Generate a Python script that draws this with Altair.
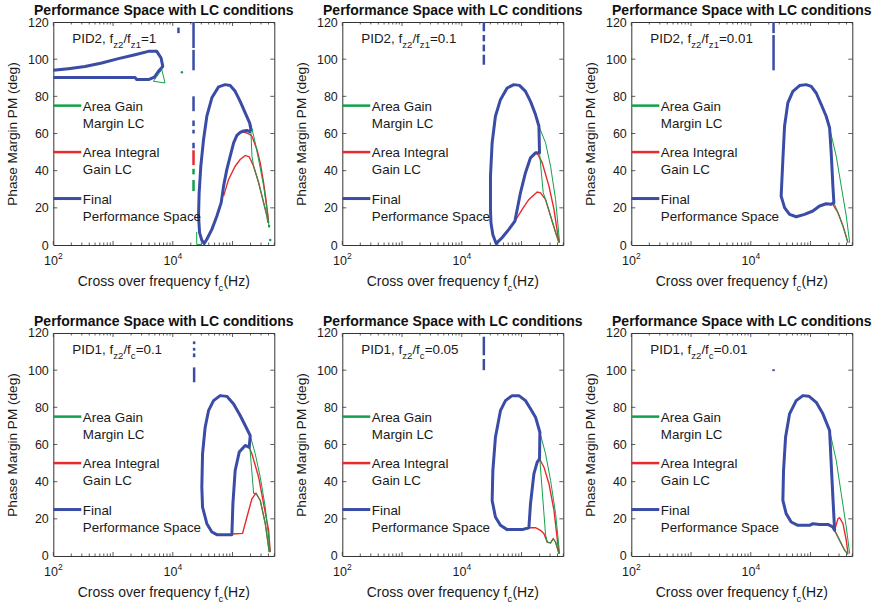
import altair as alt
import pandas as pd

# ---------------- data ----------------
# paths are (log10 of cross-over frequency in Hz, phase margin in deg)
P1_BLUE = [[(4.525,0.8),(4.486,2.5),(4.448,6.7),(4.431,15.6),(4.441,28.1),(4.469,42.4),(4.515,56.8),(4.570,69.3),(4.654,79.2),(4.766,85.1),(4.877,86.3),(4.961,85.8),(5.044,82.7),(5.128,77.3),(5.212,71.1),(5.286,65.7),(5.308,62.1),(5.290,61.0),(5.240,61.6),(5.185,61.4),(5.128,60.6),(5.073,59.0),(5.018,55.0),(4.961,47.8),(4.905,40.7),(4.850,31.7),(4.810,22.8),(4.738,15.6),(4.654,8.4),(4.570,3.1),(4.525,0.8)],
           [(2.0,90.2),(3.368,90.2),(3.396,89.0),(3.593,89.0),(3.693,90.4),(3.760,93.5),(3.832,96.1),(3.804,100.6),(3.732,104.2),(3.593,104.2),(3.368,102.4),(3.090,100.3),(2.810,97.9),(2.530,96.1),(2.251,94.9),(2.0,94.0)]]
P1_RED = [[(4.961,47.8),(5.018,55.0),(5.073,59.0),(5.128,60.4),(5.185,60.8),(5.240,60.2),(5.290,59.5),(5.325,58.5),(5.408,51.4),(5.464,44.2),(5.520,33.5),(5.559,24.5),(5.593,15.6),(5.604,12.0)],
          [(4.850,26.3),(4.934,35.3),(5.044,42.4),(5.128,46.0),(5.212,48.2),(5.279,47.5),(5.353,42.4),(5.437,33.5),(5.520,22.8),(5.576,15.6),(5.593,12.0)]]
P1_GREEN = [[(5.308,64.8),(5.380,55.0),(5.447,44.2),(5.520,31.7),(5.576,19.2),(5.604,12.0),(5.610,9.3)],
            [(5.308,61.0),(5.325,47.8),(5.353,42.4),(5.437,33.5),(5.520,22.8),(5.576,15.6),(5.593,12.0)],
            [(3.676,88.1),(3.816,94.4),(3.871,87.2),(3.676,88.1)],
            [(4.40,7.0),(4.40,0.3),(4.47,0.3)]]
P1_GREEN_PTS = [(5.612,10.2),(5.631,2.7),(4.152,93.0)]
P1_BLUE_DASH = [(4.347,94,105),(4.347,106,120),(4.347,72,80),(4.347,64,67),(4.347,60,62),(4.347,52,55),(4.095,114,117)]
P1_RED_DASH = [(4.347,43,51)]
P1_GREEN_DASH = [(4.347,29,35),(4.347,38,41)]

P2_BLUE = [[(4.575,0.8),(4.520,5.5),(4.488,12.0),(4.480,19.2),(4.480,37.0),(4.508,55.0),(4.563,69.3),(4.647,78.2),(4.759,84.5),(4.872,86.3),(4.966,85.9),(5.066,82.7),(5.150,77.3),(5.234,70.2),(5.291,63.9),(5.301,49.6),(5.234,49.6),(5.150,46.9),(5.066,38.9),(4.982,28.1),(4.889,12.9),(4.788,8.4),(4.676,4.0),(4.575,0.8)]]
P2_RED = [[(4.889,12.9),(4.982,28.1),(5.066,38.9),(5.150,46.9),(5.234,49.6),(5.280,48.5),(5.346,44.2),(5.459,31.7),(5.543,19.2),(5.626,1.3)],
          [(4.889,12.9),(5.011,19.2),(5.123,24.5),(5.262,28.5),(5.318,28.1),(5.402,24.5),(5.486,15.6),(5.570,6.7),(5.626,1.3)]]
P2_GREEN = [[(5.291,63.9),(5.402,55.0),(5.486,42.4),(5.570,24.5),(5.637,1.3)],
            [(5.301,49.6),(5.363,28.1),(5.402,24.5),(5.486,15.6),(5.570,6.7),(5.626,1.3)]]
P2_BLUE_DASH = [(4.369,115,120),(4.369,109.6,113),(4.369,104.2,107.8),(4.369,97,102.4)]

P3_BLUE = [[(4.508,26.3),(4.537,46.0),(4.565,63.9),(4.620,76.5),(4.704,82.7),(4.816,85.8),(4.927,86.3),(5.011,85.4),(5.095,81.8),(5.179,75.6),(5.262,69.3),(5.319,63.0),(5.346,49.6),(5.374,31.7),(5.391,22.8),(5.346,21.9),(5.262,22.2),(5.151,21.0),(5.039,18.3),(4.900,16.5),(4.760,15.2),(4.649,16.5),(4.565,20.1),(4.508,26.3)]]
P3_RED = [[(5.375,21.9),(5.459,17.4),(5.543,10.2),(5.626,1.3)]]
P3_GREEN = [[(5.319,63.0),(5.430,47.8),(5.514,31.7),(5.598,15.6),(5.655,1.3)],
            [(5.391,22.8),(5.459,17.4),(5.543,10.2),(5.626,1.3)]]
P3_BLUE_DASH = [(4.381,94,113),(4.381,114,120)]

P4_BLUE = [[(4.738,11.5),(4.989,11.5),(5.006,28.1),(5.044,46.0),(5.112,55.9),(5.212,59.5),(5.279,58.5),(5.296,64.8),(5.212,70.2),(5.128,75.6),(5.018,81.8),(4.905,85.9),(4.793,86.3),(4.682,83.6),(4.598,78.2),(4.542,69.3),(4.498,55.0),(4.486,37.0),(4.498,26.3),(4.570,17.4),(4.654,12.9),(4.738,11.5)]]
P4_RED = [[(4.989,11.8),(5.168,12.2),(5.241,21.0),(5.324,30.8),(5.392,33.8),(5.464,29.9),(5.548,17.4),(5.615,2.1)],
          [(5.212,59.5),(5.279,58.5),(5.324,55.0),(5.437,42.4),(5.520,28.1),(5.604,13.8),(5.631,2.1)]]
P4_GREEN = [[(5.296,64.8),(5.380,55.0),(5.464,42.4),(5.548,26.3),(5.631,2.1)],
            [(5.290,58.5),(5.353,33.5),(5.392,33.8),(5.464,29.9),(5.548,17.4),(5.615,2.1)]]
P4_BLUE_DASH = [(4.357,114,115.5),(4.357,110.5,112),(4.357,107,109),(4.357,93.5,101.5)]

P5_BLUE = [[(4.759,14.2),(5.011,14.2),(5.123,15.2),(5.150,28.1),(5.207,44.2),(5.262,50.5),(5.301,52.3),(5.307,66.6),(5.234,74.7),(5.150,79.2),(5.066,83.6),(4.956,86.3),(4.843,86.3),(4.731,83.6),(4.647,78.2),(4.563,63.9),(4.520,46.0),(4.508,29.9),(4.563,21.0),(4.647,16.5),(4.759,14.2)]]
P5_RED = [[(5.123,15.2),(5.234,15.2),(5.318,13.8),(5.375,12.0),(5.430,7.5),(5.486,7.0),(5.530,9.3),(5.570,7.5),(5.626,1.3)],
          [(5.301,52.3),(5.375,47.8),(5.459,38.9),(5.543,24.5),(5.626,1.3)]]
P5_GREEN = [[(5.307,66.6),(5.402,55.0),(5.486,40.7),(5.570,22.8),(5.637,1.3)],
            [(5.307,51.6),(5.402,11.5),(5.430,7.5),(5.486,7.0),(5.530,9.3),(5.570,7.5),(5.626,1.3)]]
P5_BLUE_DASH = [(4.369,108,118),(4.369,100,106)]

P6_BLUE = [[(4.537,29.9),(4.548,46.0),(4.582,63.9),(4.649,76.5),(4.760,83.6),(4.872,86.3),(4.972,86.0),(5.095,82.7),(5.207,76.5),(5.319,67.5),(5.346,49.6),(5.374,31.7),(5.403,13.8),(5.374,15.6),(5.291,17.0),(5.152,17.0),(5.039,17.4),(4.984,16.5),(4.788,16.5),(4.676,18.3),(4.592,22.8),(4.537,29.9)]]
P6_RED = [[(5.403,13.8),(5.459,20.1),(5.487,20.6),(5.543,17.4),(5.598,8.4),(5.626,1.3)],
          [(5.403,13.8),(5.487,8.4),(5.570,3.1),(5.626,0.9)]]
P6_GREEN = [[(5.319,67.5),(5.430,51.4),(5.514,33.5),(5.598,15.6),(5.655,1.3)],
            [(5.403,13.8),(5.487,8.4),(5.570,3.1),(5.626,0.9)]]
P6_BLUE_DASH = [(4.381,99.5,100.5)]

ANNOTATIONS = [("PID2", "z2", "z1", "1"), ("PID2", "z2", "z1", "0.1"), ("PID2", "z2", "z1", "0.01"),
               ("PID1", "z2", "c", "0.1"), ("PID1", "z2", "c", "0.05"), ("PID1", "z2", "c", "0.01")]
LEGEND_TEXT = [("Area Gain", "Margin LC"), ("Area Integral", "Gain LC"), ("Final", "Performance Space")]
LEGEND_PM = [75, 50, 25]
TITLE = "Performance Space with LC conditions"
Y_TITLE = "Phase Margin PM (deg)"
Y_TICKS = [0, 20, 40, 60, 80, 100, 120]
X_LABELS = [(100, "10", "2"), (10000, "10", "4")]

# ---------------- styling ----------------
FONT = "Liberation Sans"
BLUE, GREEN, RED = "#3a4ca6", "#12a04a", "#e8292d"
TXT = "#1a1a1a"
W, H = 221, 223
XS = alt.Scale(type="log", domain=[100, 500000], nice=False)
YS = alt.Scale(domain=[0, 120], nice=False, zero=False)
YAX = alt.Axis(values=Y_TICKS, title=Y_TITLE, ticks=False, domain=False, grid=False,
               labelFont=FONT, labelFontSize=12.5, labelColor=TXT, labelPadding=5,
               titleFont=FONT, titleFontSize=13.6, titleFontWeight="normal", titleColor=TXT,
               titlePadding=7.5)

AW = {" ": 278, "(": 333, ")": 333, ",": 278, ".": 278, "/": 278, "=": 584, "C": 722, "D": 722,
      "H": 722, "I": 278, "P": 667, "c": 500, "e": 556, "f": 278, "n": 556, "o": 556, "q": 556,
      "r": 333, "s": 500, "u": 556, "v": 500, "y": 500, "z": 500}


def tw(s, size):
    return sum(AW.get(ch, 556) for ch in s) * size / 1000.0


ONE = pd.DataFrame({"k": [0]})


def X(f):
    return alt.X(f, type="quantitative", scale=XS, axis=None)


def Y(f):
    return alt.Y(f, type="quantitative", scale=YS, axis=YAX)


def paths_df(paths):
    rows = []
    for s, p in enumerate(paths):
        for i, (lf, pm) in enumerate(p):
            rows.append({"seg": s, "i": i, "f": 10 ** lf, "pm": pm})
    return pd.DataFrame(rows)


def dash_df(d):
    return pd.DataFrame([{"f": 10 ** lf, "lo": lo, "hi": hi} for lf, lo, hi in d])


def txt(s, px, py, size, align="left"):
    return alt.Chart(ONE).mark_text(text=s, font=FONT, fontSize=size, color=TXT, align=align,
                                    baseline="middle").encode(x=alt.value(px), y=alt.value(py))


def panel(blue, red, green, bdash, rdash=(), gdash=(), gpts=(), annot=None):
    layers = []
    layers.append(alt.Chart(paths_df(red)).mark_line(color=RED, strokeWidth=1.4, clip=True)
                  .encode(x=X("f"), y=Y("pm"), detail="seg:N", order="i:Q"))
    layers.append(alt.Chart(paths_df(green)).mark_line(color=GREEN, strokeWidth=1.0, clip=True)
                  .encode(x=X("f"), y=Y("pm"), detail="seg:N", order="i:Q"))
    layers.append(alt.Chart(paths_df(blue)).mark_line(color=BLUE, strokeWidth=3, strokeJoin="round",
                                                      strokeCap="round", clip=True)
                  .encode(x=X("f"), y=Y("pm"), detail="seg:N", order="i:Q"))
    for d, c in ((bdash, BLUE), (rdash, RED), (gdash, GREEN)):
        if d:
            layers.append(alt.Chart(dash_df(d)).mark_rule(color=c, strokeWidth=2.5)
                          .encode(x=X("f"), y=Y("lo"), y2="hi:Q"))
    if gpts:
        gp = pd.DataFrame([{"f": 10 ** lf, "pm": pm} for lf, pm in gpts])
        layers.append(alt.Chart(gp).mark_circle(color=GREEN, size=6, opacity=1)
                      .encode(x=X("f"), y=Y("pm")))
    # legend inside the axes
    leg = pd.DataFrame({"pm": LEGEND_PM, "c": [GREEN, RED, BLUE], "w": [2.5, 2.5, 3],
                        "t1": [a for a, b in LEGEND_TEXT], "t2": [b for a, b in LEGEND_TEXT]})
    layers.append(alt.Chart(leg).mark_rule().encode(
        x=alt.value(0), x2=alt.value(28), y=Y("pm"),
        color=alt.Color("c:N", scale=None), strokeWidth=alt.StrokeWidth("w:Q", scale=None)))
    layers.append(alt.Chart(leg).mark_text(font=FONT, fontSize=13.4, color=TXT, align="left",
                                           baseline="middle", dy=1).encode(x=alt.value(29.5), y=Y("pm"), text="t1:N"))
    layers.append(alt.Chart(leg).mark_text(font=FONT, fontSize=13.4, color=TXT, align="left",
                                           baseline="middle", dy=18).encode(x=alt.value(29.5), y=Y("pm"), text="t2:N"))
    # annotation with subscripts
    pid, s1, s2, val = annot
    segs = [(pid + ", f", False), (s1, True), ("/f", False), (s2, True), ("=" + val, False)]
    px = 19
    for s, sub in segs:
        size = 9.6 if sub else 13.4
        layers.append(txt(s, px, 23 if sub else 17, size))
        px += tw(s, size)
    # x tick labels with superscripts
    xl = pd.DataFrame({"f": [a for a, b, c in X_LABELS], "b": [b for a, b, c in X_LABELS],
                       "e": [c for a, b, c in X_LABELS]})
    wb, we = tw("10", 12.5), tw("2", 8.5)
    layers.append(alt.Chart(xl).mark_text(font=FONT, fontSize=12.5, color=TXT, align="left",
                                          baseline="middle", dx=-(wb + we) / 2)
                  .encode(x=X("f"), y=alt.value(H + 16), text="b:N"))
    layers.append(alt.Chart(xl).mark_text(font=FONT, fontSize=8.5, color=TXT, align="left",
                                          baseline="middle", dx=-(wb + we) / 2 + wb)
                  .encode(x=X("f"), y=alt.value(H + 11), text="e:N"))
    # x axis title with subscript
    t1, t2, t3 = "Cross over frequency f", "c", "(Hz)"
    w1, w2, w3 = tw(t1, 14), tw(t2, 9.6), tw(t3, 14)
    x0 = W / 2 - (w1 + w2 + w3) / 2
    layers.append(txt(t1, x0, H + 37, 14))
    layers.append(txt(t2, x0 + w1, H + 43, 9.6))
    layers.append(txt(t3, x0 + w1 + w2, H + 37, 14))
    # inward ticks
    major = pd.DataFrame({"t": [100, 1000, 10000, 100000]})
    minor = pd.DataFrame({"t": [k * 10 ** n for n in range(2, 6) for k in range(2, 10) if k * 10 ** n <= 500000]})
    for df, ln in ((major, 4), (minor, 2.5)):
        layers.append(alt.Chart(df).mark_rule(color="#333", strokeWidth=0.8)
                      .encode(x=X("t"), y=alt.value(H), y2=alt.value(H - ln)))
        layers.append(alt.Chart(df).mark_rule(color="#333", strokeWidth=0.8)
                      .encode(x=X("t"), y=alt.value(0), y2=alt.value(ln)))
    yt = pd.DataFrame({"t": Y_TICKS[1:-1]})
    layers.append(alt.Chart(yt).mark_rule(color="#333", strokeWidth=0.8)
                  .encode(y=Y("t"), x=alt.value(0), x2=alt.value(4)))
    layers.append(alt.Chart(yt).mark_rule(color="#333", strokeWidth=0.8)
                  .encode(y=Y("t"), x=alt.value(W - 4), x2=alt.value(W)))
    return alt.layer(*layers).properties(
        width=W, height=H,
        title=alt.TitleParams(TITLE, font=FONT, fontSize=14, fontWeight="bold", color="#111",
                              offset=-2, frame="group", anchor="middle"))


p1 = panel(P1_BLUE, P1_RED, P1_GREEN, P1_BLUE_DASH, P1_RED_DASH, P1_GREEN_DASH, P1_GREEN_PTS, ANNOTATIONS[0])
p2 = panel(P2_BLUE, P2_RED, P2_GREEN, P2_BLUE_DASH, annot=ANNOTATIONS[1])
p3 = panel(P3_BLUE, P3_RED, P3_GREEN, P3_BLUE_DASH, annot=ANNOTATIONS[2])
p4 = panel(P4_BLUE, P4_RED, P4_GREEN, P4_BLUE_DASH, annot=ANNOTATIONS[3])
p5 = panel(P5_BLUE, P5_RED, P5_GREEN, P5_BLUE_DASH, annot=ANNOTATIONS[4])
p6 = panel(P6_BLUE, P6_RED, P6_GREEN, P6_BLUE_DASH, annot=ANNOTATIONS[5])

chart = alt.concat(p1, p2, p3, p4, p5, p6, columns=3,
                   spacing=alt.RowColnumber(row=88, column=68), bounds="flush").properties(
    padding={"left": 5.3, "top": 3, "right": 0, "bottom": 0},
    background="white",
).configure_view(stroke="#333", strokeWidth=1)

chart.save("out.html", embed_options={"renderer": "svg", "actions": False})
